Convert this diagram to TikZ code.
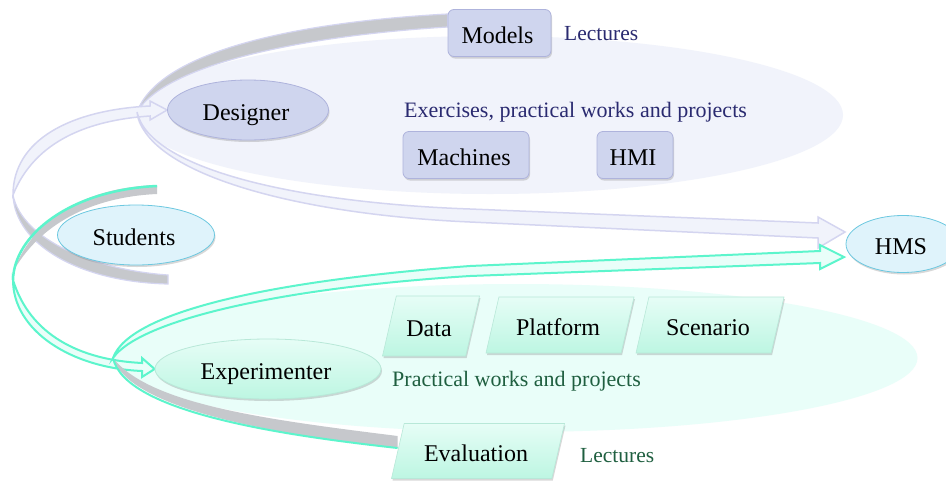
\documentclass[tikz,border=0pt]{standalone}
\usepackage{fontspec}
\setmainfont{Liberation Serif}
\usetikzlibrary{shapes.geometric,shadows}
\pgfdeclarelayer{connectors}
\pgfsetlayers{connectors,main}
\definecolor{lavfill}{HTML}{CFD5EE}
\definecolor{lavedge}{HTML}{AEB3DC}
\definecolor{lavpale}{HTML}{F1F3FB}
\definecolor{lavline}{HTML}{D4D5F0}
\definecolor{bandgray}{HTML}{C6C8CC}
\definecolor{greenline}{HTML}{5CF5CC}
\definecolor{greenpale}{HTML}{E9FEF9}
\definecolor{greentop}{HTML}{E6FDF6}
\definecolor{greenbot}{HTML}{BDF6E2}
\definecolor{greenedge}{HTML}{B8E8D8}
\definecolor{bluefill}{HTML}{DFF3FB}
\definecolor{blueedge}{HTML}{6CC8E0}
\definecolor{navy}{HTML}{2A2A70}
\definecolor{darkgreen}{HTML}{1F5F40}
\tikzset{
  softshadow/.style={drop shadow={shadow xshift=1pt,shadow yshift=-2pt,opacity=.25,fill=black!60}},
  bigtext/.style={font=\fontsize{24}{28}\selectfont,text=black,inner sep=0pt,text height=20pt,text depth=0pt,execute at begin node={\kern-4pt}},
  rectbox/.style={bigtext,draw=lavedge,line width=.8pt,rounded corners=6pt,fill=lavfill,softshadow},
  lavoval/.style={bigtext,ellipse,draw=lavedge,line width=.8pt,fill=lavfill,softshadow},
  blueoval/.style={bigtext,ellipse,draw=blueedge,line width=.8pt,fill=bluefill,softshadow},
  greenoval/.style={bigtext,ellipse,draw=greenedge,line width=.8pt,top color=greentop,bottom color=greenbot,softshadow},
  para/.style={bigtext,trapezium,trapezium left angle=77,trapezium right angle=103,trapezium stretches body=true,draw=greenedge,line width=.6pt,top color=greentop,bottom color=greenbot,softshadow},
  lavlabel/.style={font=\fontsize{22}{25}\selectfont,text=navy,inner sep=0pt},
  greenlabel/.style={font=\fontsize{22}{25}\selectfont,text=darkgreen,inner sep=0pt},
  shortlabel/.style={font=\fontsize{21.5}{25}\selectfont},
  lavarrow/.style={draw=lavline,line width=1.5pt,fill=lavpale,line join=miter},
  greenarrow/.style={draw=greenline,line width=2pt,fill=greenpale,line join=miter},
  lavband/.style={fill=bandgray,draw=lavline,line width=1.2pt},
  greenband/.style={fill=bandgray,draw=none},
}
\begin{document}
\begin{tikzpicture}[x=1pt,y=-1pt]
\useasboundingbox (0,0) rectangle (946,480);

% nodes
\node[lavoval,minimum width=161pt,minimum height=60pt] (designer) at (248,110) {Designer};
\node[blueoval,minimum width=157pt,minimum height=60pt] (students) at (136,235) {Students};
\node[blueoval,minimum width=114pt,minimum height=57pt] (hms) at (903,244) {HMS};
\node[greenoval,minimum width=226pt,minimum height=60pt] (experimenter) at (268,369) {Experimenter};
\node[rectbox,minimum width=103pt,minimum height=47pt] (models) at (499.5,33) {Models};
\node[rectbox,minimum width=126pt,minimum height=47pt] (machines) at (466,155) {Machines};
\node[rectbox,minimum width=76pt,minimum height=47pt] (hmi) at (635,155) {HMI};
\node[para,inner ysep=20pt,minimum width=97pt] (data) at (431,326) {Data};
\node[para,inner ysep=18pt,minimum width=148pt] (platform) at (560,325) {Platform};
\node[para,inner ysep=18pt,minimum width=148pt] (scenario) at (710,325) {Scenario};
\node[para,inner ysep=17.5pt,minimum width=173pt] (evaluation) at (478,451) {Evaluation};

% labels
\node[lavlabel,shortlabel,anchor=west] (lec1) at (564,34) {Lectures};
\node[lavlabel,anchor=west] (ex) at (404,112) {Exercises, practical works and projects};
\node[greenlabel,anchor=west] (prac) at (392,381) {Practical works and projects};
\node[greenlabel,shortlabel,anchor=west] (lec2) at (580,456) {Lectures};

\coordinate (lavstart) at (137,112);
\coordinate (greenstart) at (113,358);
\coordinate (hmslav) at (845,232);
\coordinate (hmsgreen) at (844,257);

\begin{pgfonlayer}{connectors}
\fill[white] (0,0) rectangle (946,480);
% pale background ellipses
\node[ellipse,fill=lavpale,minimum width=706pt,minimum height=158pt,inner sep=0pt] (lavzone) at (490,115) {};
\node[ellipse,fill=greenpale,minimum width=803pt,minimum height=148pt,inner sep=0pt] (greenzone) at (516,358) {};

% Designer bands and arrows
\path[lavband] (models.west |- 0,14) .. controls (300,22) and (160,50) .. (lavstart)
   .. controls (165,65) and (300,36) .. (models.west |- 0,27) -- cycle;
\path[lavband] (168,284) .. controls (80,282) and (15,245) .. (13,195)
   .. controls (22,240) and (95,270) .. (168,275) -- cycle;
\path[lavarrow] (13,195) .. controls (13,140) and (70,110) .. (150,106) -- (150,101)
   -- (designer.west) -- (150,120) -- (150,116) .. controls (90,120) and (35,140) .. (13,195) -- cycle;
\path[lavarrow] (lavstart) .. controls (150,170) and (300,203) .. (470,209)
   -- (818,223) -- (818,217) -- (hmslav) -- (818,248) -- (818,238) -- (470,222)
   .. controls (290,214) and (145,172) .. (lavstart) -- cycle;

% Experimenter bands and arrows
\path[greenband] (157,185) .. controls (90,187) and (35,215) .. (14,270)
   .. controls (40,225) and (90,197) .. (157,194) -- cycle;
\draw[greenline,line width=2.5pt] (157,186) .. controls (70,190) and (14,235) .. (13,280);
\path[greenarrow] (13,280) .. controls (13,330) and (70,368) .. (142,371) -- (142,377)
   -- (experimenter.west) -- (142,358) -- (142,363) .. controls (80,360) and (30,335) .. (13,280) -- cycle;
\path[greenarrow] (greenstart) .. controls (130,310) and (280,280) .. (470,266)
   -- (820,251) -- (820,245) -- (hmsgreen) -- (820,269) -- (820,263) -- (470,276)
   .. controls (280,288) and (140,320) .. (greenstart) -- cycle;
\path[greenband] (greenstart) .. controls (130,410) and (280,435) .. (evaluation.west |- 0,448)
   -- (evaluation.west |- 0,436) .. controls (270,420) and (150,405) .. (greenstart) -- cycle;
\draw[greenline,line width=2pt] (greenstart) .. controls (125,412) and (280,435) .. (evaluation.west |- 0,448);
\end{pgfonlayer}
\end{tikzpicture}
\end{document}
